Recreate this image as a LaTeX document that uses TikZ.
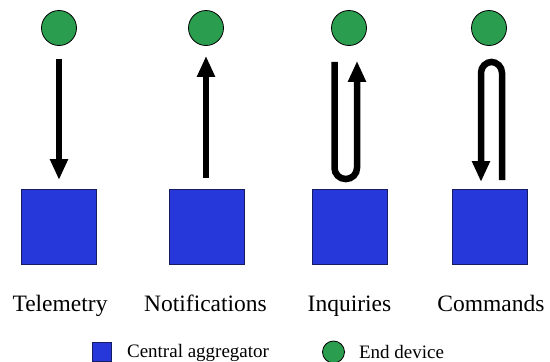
\documentclass[tikz,border=0pt]{standalone}
\usepackage{fontspec}
\setmainfont{Liberation Serif}
\newfontfamily\labelface{Liberation Serif}
\usetikzlibrary{positioning,arrows.meta}

\definecolor{aggblue}{RGB}{38,56,217}
\definecolor{aggedge}{RGB}{22,28,95}
\definecolor{devgreen}{RGB}{42,157,78}

\tikzset{
  device/.style={circle,draw=black,line width=0.8pt,fill=devgreen,minimum size=35pt,inner sep=0pt},
  aggregator/.style={rectangle,draw=aggedge,line width=1pt,fill=aggblue,minimum width=75pt,minimum height=75pt,inner sep=0pt},
  flow/.style={line width=6.5pt,-{Triangle[width=17pt,length=21pt]}},
  uturn/.style={flow,rounded corners=11pt},
  kind/.style={font=\labelface\fontsize{23.5}{28}\selectfont,anchor=base,inner sep=0pt},
  keytext/.style={font=\labelface\fontsize{19}{23}\selectfont,inner sep=0pt}
}

\begin{document}
\begin{tikzpicture}[x=1pt,y=-1pt]
		\useasboundingbox (0,0) rectangle (550,362);

		% End devices
		\node[device] (dev1) at (59,28) {};
		\node[device] (dev2) at (206,28) {};
		\node[device] (dev3) at (349,28) {};
		\node[device] (dev4) at (489,28) {};

		% Central aggregators
		\node[aggregator] (agg1) at (59,227) {};
		\node[aggregator] (agg2) at (207,227) {};
		\node[aggregator] (agg3) at (350,227) {};
		\node[aggregator] (agg4) at (490,227) {};

		% Traffic types
		\node[kind] (lab1) at (60,311) {Telemetry};
		\node[kind] (lab2) at (205.5,311) {Notifications};
		\node[kind] (lab3) at (349.5,311) {Inquiries};
		\node[kind] (lab4) at (491,311) {Commands};

		% Telemetry and notifications
		\draw[flow] ([yshift=-13pt]dev1.south) -- ([yshift=9pt]agg1.north);
		\draw[flow] ([xshift=-1pt,yshift=11pt]agg2.north) -- ([yshift=-10pt]dev2.south);

		% Inquiries: down, then back up
		\coordinate (low3) at ([yshift=10pt]agg3.north);
		\draw[uturn] ([xshift=-14.5pt,yshift=-16pt]dev3.south) coordinate (in3)
			-- (in3 |- low3) -- ++(22.5,0) -- ([xshift=8pt,yshift=-15pt]dev3.south);

		% Commands: up, then back down
		\coordinate (high4) at ([yshift=-16pt]dev4.south);
		\draw[uturn] ([xshift=12pt,yshift=9pt]agg4.north) coordinate (out4)
			-- (out4 |- high4) -- ++(-21,0) -- ([xshift=-9pt,yshift=7pt]agg4.north);

		% Legend
		\node[rectangle,draw=aggedge,line width=0.8pt,fill=aggblue,minimum size=19pt,inner sep=0pt] (keyagg) at (102,352) {};
		\node[keytext,right=15pt of keyagg,yshift=-1pt] (keyaggtext) {Central aggregator};
		\node[device,minimum size=22pt] (keydev) at (333.5,352) {};
		\node[keytext,right=14pt of keydev] (keydevtext) {End device};
	\end{tikzpicture}
\end{document}
